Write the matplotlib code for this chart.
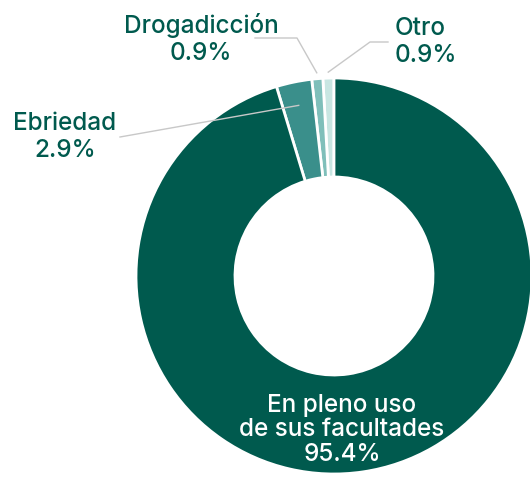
import matplotlib
matplotlib.use('Agg')
import matplotlib.pyplot as plt
import numpy as np

# datos (orden contrario a las agujas desde las 12)
categorias = ['Otro', 'Drogadicción', 'Ebriedad', 'En pleno uso\nde sus facultades']
valores = [0.9, 0.9, 2.9, 95.4]
colores = ['#c8e6e2', '#7fbfba', '#3a8f8b', '#005a4e']

verde = '#005a4e'
gris = '#c8c8c8'

plt.rcParams['font.family'] = ['Inter', 'DejaVu Sans']

fig = plt.figure(figsize=(5.30, 4.79), dpi=100)
ax = fig.add_axes([0, 0, 1, 1])
ax.axis('off')

wedges, _ = ax.pie(valores, colors=colores, startangle=90, counterclock=True,
                   radius=1, wedgeprops=dict(width=0.5, edgecolor='white', linewidth=2))

# limites para que el centro quede en (334, 276) px con radio 198 px
esc = 198
ax.set_xlim(-334 / esc, (530 - 334) / esc)
ax.set_ylim((276 - 479) / esc, 276 / esc)
ax.set_aspect('auto')


def punto(w, r):
    ang = np.deg2rad((w.theta1 + w.theta2) / 2)
    return r * np.cos(ang), r * np.sin(ang)


def px(x, y):
    return (x - 334) / esc, (276 - y) / esc


estilo = dict(fontsize=17.5, fontweight='medium', linespacing=1.18)

# Otro
ex, ey = punto(wedges[0], 1.03)
p1 = px(388, 42)
p2 = px(370, 42)
ax.plot([p1[0], p2[0], ex], [p1[1], p2[1], ey], color=gris, lw=1)
ax.text(*px(395, 42), 'Otro\n0.9%', ha='left', va='center', color=verde, **estilo)

# Drogadicción
ex, ey = punto(wedges[1], 1.03)
p1 = px(255, 38)
p2 = px(297, 38)
ax.plot([p1[0], p2[0], ex], [p1[1], p2[1], ey], color=gris, lw=1)
ax.text(*px(201, 39), 'Drogadicción\n0.9%', ha='center', va='center', color=verde, **estilo)

# Ebriedad
ex, ey = punto(wedges[2], 0.88)
p1 = px(120, 137)
ax.plot([p1[0], ex], [p1[1], ey], color=gris, lw=1)
ax.text(*px(65, 137), 'Ebriedad\n2.9%', ha='center', va='center', color=verde, **estilo)

# En pleno uso
ax.text(*px(342, 430), 'En pleno uso\nde sus facultades\n95.4%', ha='center', va='center',
        color='white', fontsize=17.5, fontweight='medium', linespacing=1.07)

fig.savefig('out.png', dpi=100)
